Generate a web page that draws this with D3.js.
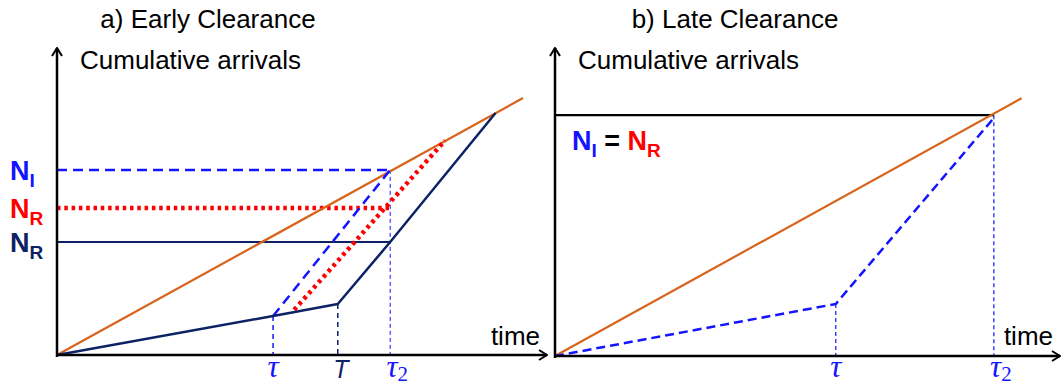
<!DOCTYPE html>
<html>
<head>
<meta charset="utf-8">
<script src="https://cdn.jsdelivr.net/npm/d3@7"></script>
<style>
  body { margin: 0; background: #fff; }
  text { font-family: "Liberation Sans", Arial, sans-serif; }
</style>
</head>
<body>
<div id="chart"></div>
<script>
// values in abstract units: x 0..100 along time axis, y 0..100 up the cumulative axis
const titles = ["a) Early Clearance", "b) Late Clearance"];
const yAxisLabel = "Cumulative arrivals";
const xAxisLabel = "time";

// panel a
const arrivalsA = [[0, 0], [95.1, 83.7]];
const departuresA = [[0, 0], [44.1, 12.7], [57.3, 16.6], [68, 36.8], [89.5, 78.8]];
const idealA = [[44.1, 12.7], [68, 60.3]];
const realA = [[48.4, 14.7], [79.2, 69.9]];
const levelsA = [
  { name: "N", sub: "I", y: 60.3, color: "#1414ff", dash: "10 6", width: 2.5 },
  { name: "N", sub: "R", y: 47.9, color: "#ff0000", dash: "3.5 3.8", width: 4.5 },
  { name: "N", sub: "R", y: 36.8, color: "#0d2265", dash: null, width: 2 }
];
const ticksA = [
  { label: "τ", sub: "", x: 44.1, y: 12.7 },
  { label: "T", sub: "", x: 57.3, y: 16.6 },
  { label: "τ", sub: "2", x: 68, y: 60.3 }
];

// panel b
const arrivalsB = [[0, 0], [92.4, 83.7]];
const departuresB = [[0, 0], [55.6, 16.9], [86.9, 77.3]];
const capacityB = 78.2;
const ticksB = [
  { label: "τ", sub: "", x: 55.6, y: 16.9 },
  { label: "τ", sub: "2", x: 86.9, y: capacityB }
];

const width = 1062, height = 385;
const orange = "#d8641c", navy = "#0d2265", blue = "#1414ff", red = "#ff0000";

const svg = d3.select("#chart").append("svg")
  .attr("width", width).attr("height", height);

svg.append("defs").append("marker")
  .attr("id", "arrow")
  .attr("viewBox", "0 0 12 12")
  .attr("refX", 11).attr("refY", 6)
  .attr("markerWidth", 12).attr("markerHeight", 12)
  .attr("markerUnits", "userSpaceOnUse")
  .attr("orient", "auto")
  .append("path")
  .attr("d", "M3,1 L11,6 L3,11")
  .attr("fill", "none").attr("stroke", "#000").attr("stroke-width", 2);

const line = d3.line();

function panel(g, x, y, title, titleX) {
  g.append("text").attr("x", titleX).attr("y", 28)
    .attr("text-anchor", "middle").attr("font-size", 26).text(title);
  g.append("text").attr("x", x(0) + 23).attr("y", 69)
    .attr("font-size", 26).text(yAxisLabel);
  g.append("text").attr("x", x(100) - 7).attr("y", 345)
    .attr("text-anchor", "end").attr("font-size", 26).text(xAxisLabel);
}

function axes(g, x, y) {
  g.append("line")
    .attr("x1", x(0)).attr("y1", y(0) + 2).attr("x2", x(0)).attr("y2", y(100))
    .attr("stroke", "#000").attr("stroke-width", 2.5).attr("marker-end", "url(#arrow)");
  g.append("line")
    .attr("x1", x(0)).attr("y1", y(0)).attr("x2", x(100)).attr("y2", y(0))
    .attr("stroke", "#000").attr("stroke-width", 2.5).attr("marker-end", "url(#arrow)");
}

function path(g, pts, x, y, color, w, dash) {
  g.append("path")
    .attr("d", line(pts.map(p => [x(p[0]), y(p[1])])))
    .attr("fill", "none").attr("stroke", color).attr("stroke-width", w)
    .attr("stroke-dasharray", dash)
    .attr("stroke-linejoin", "round");
}

function tickLabel(g, t, px, py, color, font) {
  const tx = g.append("text").attr("x", px).attr("y", py)
    .attr("text-anchor", "middle").attr("fill", color)
    .attr("font-size", font === "sans" ? 25 : 31)
    .attr("font-style", "italic")
    .style("font-family", font === "sans" ? "'Liberation Sans', Arial, sans-serif" : "'Liberation Serif', 'Times New Roman', serif");
  tx.append("tspan").text(t.label);
  if (t.sub) tx.append("tspan").attr("dy", 4).attr("font-size", 21).attr("font-style", "normal").text(t.sub);
}

// ---- panel a
const xA = d3.scaleLinear().domain([0, 100]).range([57, 547]);
const yA = d3.scaleLinear().domain([0, 100]).range([355, 48]);
const gA = svg.append("g");
panel(gA, xA, yA, titles[0], 208);

// vertical guides
path(gA, [[ticksA[0].x, ticksA[0].y], [ticksA[0].x, 0]], xA, yA, blue, 1.5, "5 4");
path(gA, [[ticksA[1].x, ticksA[1].y], [ticksA[1].x, 0]], xA, yA, navy, 1.5, "5 4");
path(gA, [[ticksA[2].x, ticksA[2].y], [ticksA[2].x, 0]], xA, yA, blue, 1, "4 3");

// horizontal levels
levelsA.forEach(l => {
  path(gA, [[0, l.y], [ticksA[2].x, l.y]], xA, yA, l.color, l.width, l.dash);
});

path(gA, arrivalsA, xA, yA, orange, 2.2);
path(gA, idealA, xA, yA, blue, 2.5, "10 6");
path(gA, realA, xA, yA, red, 4.5, "3.5 3.8");
path(gA, departuresA, xA, yA, navy, 2.5);
axes(gA, xA, yA);

// level labels
levelsA.forEach(l => {
  const t = gA.append("text").attr("x", 10).attr("y", yA(l.y) + 10)
    .attr("font-size", 27).attr("font-weight", "bold").attr("fill", l.color);
  t.append("tspan").text(l.name);
  t.append("tspan").attr("dy", 7).attr("font-size", 19).text(l.sub);
});

tickLabel(gA, ticksA[0], xA(ticksA[0].x), 377, blue, "serif");
tickLabel(gA, ticksA[1], xA(ticksA[1].x) + 3, 378, navy, "sans");
tickLabel(gA, ticksA[2], xA(ticksA[2].x) + 7, 377, blue, "serif");

// ---- panel b
const xB = d3.scaleLinear().domain([0, 100]).range([555, 1060]);
const yB = d3.scaleLinear().domain([0, 100]).range([356, 48]);
const gB = svg.append("g");
panel(gB, xB, yB, titles[1], 735);

ticksB.forEach(t => path(gB, [[t.x, t.y], [t.x, 0]], xB, yB, blue, 1.2, "4 3"));
path(gB, [[0, capacityB], [ticksB[1].x, capacityB]], xB, yB, "#000", 2.2);
path(gB, arrivalsB, xB, yB, orange, 2.2);
path(gB, departuresB, xB, yB, blue, 2.5, "9 5");
axes(gB, xB, yB);

const eq = gB.append("text").attr("x", xB(0) + 17).attr("y", 150)
  .attr("font-size", 27).attr("font-weight", "bold");
eq.append("tspan").attr("fill", blue).text("N");
eq.append("tspan").attr("fill", blue).attr("dy", 7).attr("font-size", 19).text("I");
eq.append("tspan").attr("fill", "#000").attr("dy", -7).text(" = ");
eq.append("tspan").attr("fill", red).text("N");
eq.append("tspan").attr("fill", red).attr("dy", 7).attr("font-size", 19).text("R");

ticksB.forEach(t => tickLabel(gB, t, xB(t.x) + (t.sub ? 7 : 0), 377, blue, "serif"));
</script>
</body>
</html>
